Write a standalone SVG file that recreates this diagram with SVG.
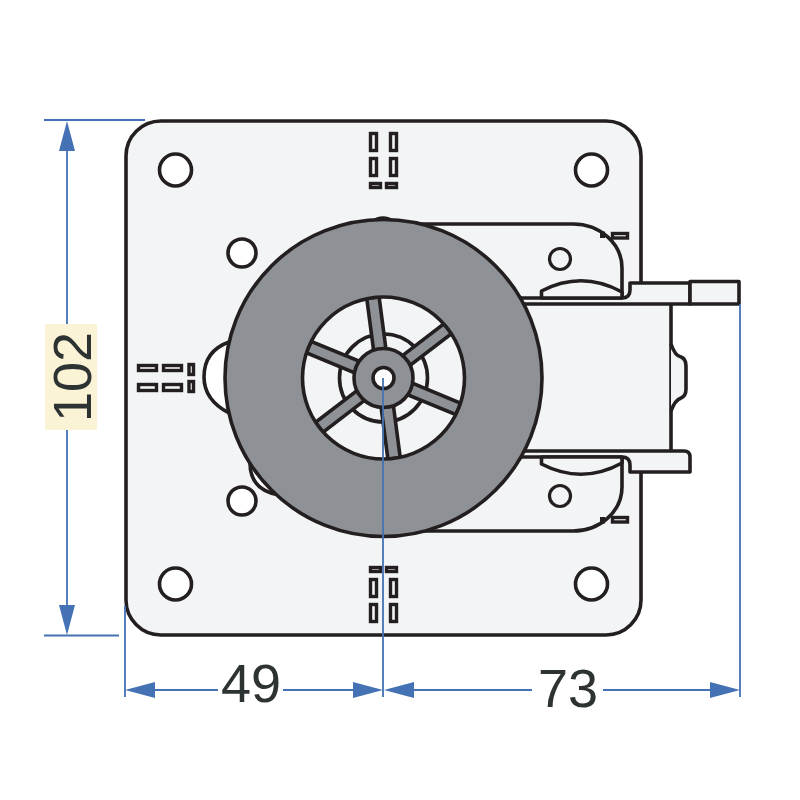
<svg xmlns="http://www.w3.org/2000/svg" width="800" height="800" viewBox="0 0 800 800">
<style>
.k{fill:#f3f4f6;stroke:#231f20;stroke-width:3.600;stroke-linejoin:round}
.n{fill:none;stroke:#231f20;stroke-width:3.600}
.w{fill:#fff;stroke:#231f20;stroke-width:3.600}
.c{fill:#f3f4f6;stroke:#231f20;stroke-width:3.200}
.s{fill:#f3f4f6;stroke:#231f20;stroke-width:3.400}
.g{fill:#8e9195;stroke:#231f20;stroke-width:3.600}
.d{stroke:#4472b4;stroke-width:1.800;fill:none}
.a{fill:#4472b4}
.t{font-family:"Liberation Sans",Arial,sans-serif;font-size:54px;fill:#2d3332;text-anchor:middle}
</style>
<defs>
<g id="sl"><rect x="-6.200" y="-81" width="12.400" height="55" class="g"/></g>
</defs>
<g id="plate">
<path class="k" d="M641 283V156A35 35 0 0 0 606 121H161A35 35 0 0 0 126 156V600A35 35 0 0 0 161 635H606A35 35 0 0 0 641 600V472"/>
<g>
<circle class="w" cx="175.500" cy="170" r="16"/><circle class="w" cx="591.500" cy="170" r="16"/>
<circle class="w" cx="175.500" cy="584" r="16"/><circle class="w" cx="591.500" cy="584" r="16"/>
<circle class="w" cx="242" cy="253" r="14"/><circle class="w" cx="242" cy="501" r="14"/>
</g>
<g id="slots-top">
<rect class="s" x="370.500" y="133.500" width="6" height="17"/><rect class="s" x="390.500" y="133.500" width="6" height="17"/>
<rect class="s" x="370.500" y="158.500" width="6" height="17"/><rect class="s" x="390.500" y="158.500" width="6" height="17"/>
<rect class="s" x="370.500" y="183.500" width="10" height="4"/><rect class="s" x="386.500" y="183.500" width="10" height="4"/>
</g>
<g id="slots-bottom">
<rect class="s" x="370.500" y="567.500" width="10" height="4"/><rect class="s" x="386.500" y="567.500" width="10" height="4"/>
<rect class="s" x="370.500" y="579.500" width="6" height="17"/><rect class="s" x="390.500" y="579.500" width="6" height="17"/>
<rect class="s" x="370.500" y="604.500" width="6" height="17"/><rect class="s" x="390.500" y="604.500" width="6" height="17"/>
</g>
<g id="slots-left">
<rect class="s" x="138.500" y="365.500" width="18" height="5"/><rect class="s" x="163.500" y="365.500" width="18" height="5"/>
<rect class="s" x="138.500" y="384.500" width="18" height="6"/><rect class="s" x="163.500" y="384.500" width="18" height="6"/>
<rect class="s" x="189" y="364.500" width="4.500" height="10"/><rect class="s" x="189" y="381.500" width="4.500" height="10"/>
</g>
<g id="bumps">
<path class="w" d="M229 342Q204 351 204 377Q204 400 229 413Z"/>
<path class="w" d="M250 463Q250 490 279 495Z"/>
<path class="k" d="M372 222Q383 214 394 222Z"/>
</g>
</g>
<g id="tabs">
<rect x="515" y="298" width="156" height="157" fill="#f3f4f6"/>
<path class="n" d="M671 304V451"/>
<path class="k" d="M671 344Q675 356 681 357Q686 359 686 366V389Q686 396 681 398Q675 400 671 411"/>
<path class="k" d="M515 304H690V283H630V290Q630 298 622 298H515"/>
<rect class="k" x="690" y="281.500" width="49" height="22.500"/>
<path class="k" d="M515 451H684Q690 451 690 457V472H630V465Q630 457 622 457H515"/>
</g>
<g id="housing-top">
<path class="n" d="M420 224H573A49 44 0 0 1 622 268V298"/>
<path class="k" d="M541.500 298V291Q582 270 622 292V298Z"/>
<circle class="c" cx="560" cy="259" r="10.500"/>
<rect class="s" x="612.500" y="233.500" width="15" height="4.500"/>
<path d="M600 231.500H605V238H600Z" fill="#231f20"/>
</g>
<g id="housing-bottom">
<path class="n" d="M420 531H573A49 44 0 0 0 622 487V457"/>
<path class="k" d="M541.500 457V464Q582 485 622 463V457Z"/>
<circle class="c" cx="560" cy="496" r="10.500"/>
<rect class="s" x="612.500" y="517.500" width="15" height="4.500"/>
<path d="M600 517H605V523.500H600Z" fill="#231f20"/>
</g>
<g id="wheel">
<circle cx="383.500" cy="378" r="81" fill="#f3f4f6"/>
<circle class="n" cx="383.500" cy="378" r="44"/>
<g transform="translate(383.500 378)">
<use href="#sl" transform="rotate(-7.500)"/><use href="#sl" transform="rotate(52.500)"/><use href="#sl" transform="rotate(112.500)"/>
<use href="#sl" transform="rotate(172.500)"/><use href="#sl" transform="rotate(232.500)"/><use href="#sl" transform="rotate(292.500)"/>
</g>
<path class="g" fill-rule="evenodd" d="M225 378A158.500 158.500 0 1 0 542 378A158.500 158.500 0 1 0 225 378ZM302.500 378A81 81 0 1 1 464.500 378A81 81 0 1 1 302.500 378Z"/>
<circle class="g" cx="383.500" cy="378" r="29.500"/>
<circle class="w" cx="383.500" cy="378" r="10.500"/>
</g>
<g id="connectors">
<path class="d" d="M44 120H145M44 635.500H119M67 150V324M67 430V606"/>
<path class="d" d="M125 606V697M383 378V697M740 304V697"/>
<path class="d" d="M155 690H218M283 690H354M413 690H532M603 690H710"/>
<path class="a" d="M67 121L75 151H59ZM67 635L75 605H59ZM125 690L155 682V698ZM383 690L353 682V698ZM384 690L414 682V698ZM740 690L710 682V698Z"/>
</g>
<g id="labels">
<rect x="45" y="324" width="52" height="106" fill="#fbf3d5"/>
<text class="t" transform="translate(91 377) rotate(-90)">102</text>
<text class="t" x="251" y="702">49</text>
<text class="t" x="568" y="707">73</text>
</g>
</svg>
